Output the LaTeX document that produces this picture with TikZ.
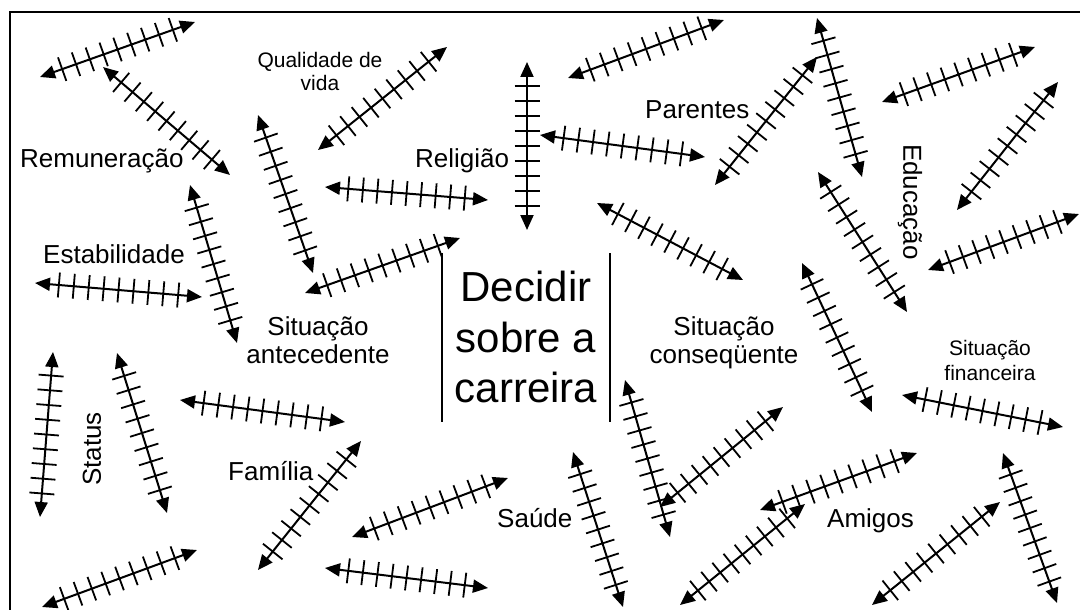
\documentclass[tikz,border=0pt]{standalone}
\usepackage{fontspec}
\setmainfont{Liberation Sans}
\usetikzlibrary{arrows.meta,decorations.markings}
\tikzset{
  harr/.style={line width=2pt,
    {Triangle[length=15pt,width=13pt]}-{Triangle[length=15pt,width=13pt]},
    postaction={decorate},
    decoration={markings,
      mark=between positions 0.143 and 0.86 step 0.0893 with {\draw[arrows=-, line width=1.8pt] (0pt,-12.5pt) -- (0pt,12.5pt);}}},
  small/.style={font=\fontsize{21}{24}\selectfont, inner sep=0pt},
  medium/.style={font=\fontsize{26}{30}\selectfont, inner sep=0pt},
  big/.style={font=\fontsize{42}{50}\selectfont, inner sep=0pt},
  frame/.style={line width=1.5pt},
  sep/.style={line width=1.3pt}
}
\begin{document}
\begin{tikzpicture}[x=1pt,y=-1pt]
\useasboundingbox (0,0) rectangle (1080,610);
\fill[white] (0,0) rectangle (1080,610);
% frame (right and bottom sides lie outside the picture)
\coordinate (fbl) at (10,620);
\coordinate (ftl) at (10,12);
\coordinate (ftr) at (1090,12);
\draw[frame] (fbl) -- (ftl) -- (ftr);
% center
\node[big, anchor=base] (d1) at (526,301) {Decidir};
\node[big, anchor=base] (d2) at (526,352) {sobre a};
\node[big, anchor=base] (d3) at (526,402) {carreira};
\coordinate (l1) at (442,253); \coordinate (l2) at (442,422);
\coordinate (r1) at (610,253); \coordinate (r2) at (610,422);
\draw[sep] (l1) -- (l2);
\draw[sep] (r1) -- (r2);
% labels
\node[small, anchor=base] (q1) at (320,68) {Qualidade de};
\node[small, anchor=base] (q2) at (320,91) {vida};
\node[medium, anchor=base west] (rem) at (20,167) {Remuneração};
\node[medium, anchor=base west] (est) at (43,263) {Estabilidade};
\node[medium, anchor=base west] (rel) at (415,167) {Religião};
\node[medium, anchor=base west] (par) at (645,118) {Parentes};
\node[medium, rotate=-90] (edu) at (910,202) {Educação};
\node[medium, rotate=90] (sta) at (92,449) {Status};
\node[medium, anchor=base] (sa1) at (318,335) {Situação};
\node[medium, anchor=base] (sa2) at (318,363) {antecedente};
\node[medium, anchor=base] (sc1) at (724,335) {Situação};
\node[medium, anchor=base] (sc2) at (724,363) {conseqüente};
\node[small, anchor=base] (sf1) at (990,355) {Situação};
\node[small, anchor=base] (sf2) at (990,380) {financeira};
\node[medium, anchor=base west] (fam) at (228,480) {Família};
\node[medium, anchor=base west] (sau) at (497,527) {Saúde};
\node[medium, anchor=base west] (ami) at (827,527) {Amigos};
% hatched double arrows
\draw[harr] (40,77) -- (195,22);
\draw[harr] (103,67) -- (230,175);
\draw[harr] (258,115) -- (313,273);
\draw[harr] (318,150) -- (447,47);
\draw[harr] (325,187) -- (488,200);
\draw[harr] (190,185) -- (237,343);
\draw[harr] (35,283) -- (202,297);
\draw[harr] (305,293) -- (460,238);
\draw[harr] (527,62) -- (527,230);
\draw[harr] (540,135) -- (705,157);
\draw[harr] (568,78) -- (724,20);
\draw[harr] (597,203) -- (743,280);
\draw[harr] (715,185) -- (817,57);
\draw[harr] (817,18) -- (862,177);
\draw[harr] (882,102) -- (1035,47);
\draw[harr] (957,210) -- (1058,82);
\draw[harr] (928,270) -- (1079,214);
\draw[harr] (818,172) -- (907,312);
\draw[harr] (802,263) -- (872,412);
\draw[harr] (53,352) -- (40,517);
\draw[harr] (117,353) -- (167,513);
\draw[harr] (180,400) -- (345,422);
\draw[harr] (258,570) -- (361,441);
\draw[harr] (42,607) -- (197,550);
\draw[harr] (352,537) -- (508,478);
\draw[harr] (325,568) -- (488,588);
\draw[harr] (573,452) -- (623,607);
\draw[harr] (625,380) -- (670,537);
\draw[harr] (660,507) -- (783,407);
\draw[harr] (680,605) -- (805,504);
\draw[harr] (760,510) -- (917,453);
\draw[harr] (902,395) -- (1063,427);
\draw[harr] (1003,453) -- (1057,603);
\draw[harr] (872,605) -- (1000,502);
\end{tikzpicture}
\end{document}
